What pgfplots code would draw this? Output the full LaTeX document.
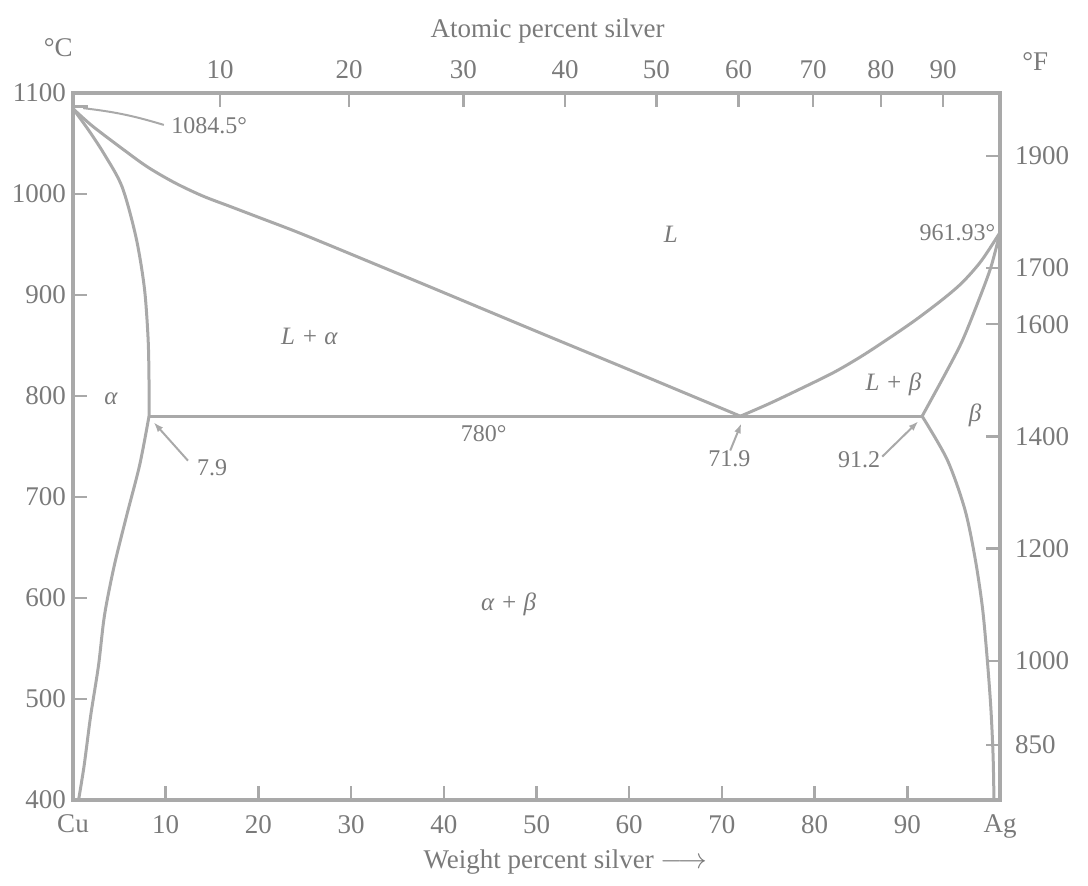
\documentclass[border=0pt]{standalone}
\usepackage{fontspec}
\setmainfont{Liberation Serif}
\usepackage{pgfplots}
\pgfplotsset{compat=1.18}
\usetikzlibrary{arrows.meta,calc}
\definecolor{lg}{HTML}{A9A9A9}
\definecolor{tg}{HTML}{7A7A7A}
\definecolor{ag}{HTML}{555555}

\begin{document}
\begin{tikzpicture}
\pgfplotsset{
  base/.style={scale only axis, width=463.5pt, height=353.5pt,
    xmin=0, xmax=100, ymin=400, ymax=1100, clip=false,
    axis line style={lg, line width=2pt},
    major tick length=7pt, tick style={lg, line width=1.2pt},
    tick label style={tg, font=\fontsize{13.5}{16}\selectfont},
    /pgf/number format/assume math mode=true,
    /pgf/number format/1000 sep={}},
}
\tikzset{
  curve/.style={lg, line width=1.5pt, smooth},
  ann/.style={tg, font=\fontsize{12}{14}\selectfont},
  reg/.style={tg, font=\fontsize{12.5}{15}\selectfont\itshape},
}
\begin{axis}[base, name=ax,
  xtick={0,10,...,100}, xticklabels={Cu,10,20,30,40,50,60,70,80,90,Ag},
  xtick pos=left, ytick={400,500,...,1100}, ytick pos=left,
  xticklabel style={yshift=-4pt}]
% liquidus (Cu side)
\addplot[curve] coordinates {(0,1084.5) (2,1068) (5,1047) (8,1027) (11,1011) (14,998) (17,987.5) (20,977) (24,963) (28,948) (33,929) (38,910) (44,887) (50,864) (55,845) (60,826) (66,803) (72,780)};
% alpha solidus
\addplot[curve] coordinates {(0,1084.5) (1.7,1063) (3.4,1039) (5.3,1007) (6.8,957) (7.7,907) (8.1,857) (8.2,815) (8.2,780)};
% alpha solvus
\addplot[curve] coordinates {(8.2,780) (7.2,732) (5.8,682) (4.45,632) (3.4,583) (2.75,533) (1.9,483) (1.2,434) (0.6,400)};
% eutectic line
\addplot[lg, line width=1.5pt] coordinates {(8.2,780) (91.6,780)};
% liquidus (Ag side)
\addplot[curve] coordinates {(72,780) (75,792) (78,805) (82,823) (85,839) (88,857) (91,876) (94,897) (96,913) (98,934) (100,961.93)};
% beta solidus
\addplot[curve] coordinates {(91.6,780) (94.1,822) (95.9,854) (97.5,890) (99.0,927) (100,961.93)};
% beta solvus
\addplot[curve] coordinates {(91.6,780) (94.3,737) (96.2,688) (97.3,640) (98.1,591) (98.6,542) (99.0,493) (99.25,445) (99.35,400)};

% annotations
\draw[lg, line width=1.5pt] (axis cs:0.2,1087) -- (axis cs:1.6,1087);
\draw[lg, line width=1pt] (axis cs:1.1,1085) to[bend left=5] (axis cs:9.8,1068.4);
\node[ann] at (axis cs:14.7,1067.5) {1084.5°};
\node[ann] at (axis cs:95.4,961.5) {961.93°};
\node[ann] at (axis cs:44.3,763) {780°};
\node[ann] at (axis cs:15.0,729) {7.9};
\draw[lg, line width=1pt, -{Latex[length=5pt,width=3.5pt,fill=ag]}] (axis cs:12.4,736) -- (axis cs:8.7,774);
\node[ann] at (axis cs:70.8,738) {71.9};
\draw[lg, line width=1pt, -{Latex[length=5pt,width=3.5pt,fill=ag]}] (axis cs:70.9,746) -- (axis cs:72.1,773);
\node[ann] at (axis cs:84.8,737) {91.2};
\draw[lg, line width=1pt, -{Latex[length=5pt,width=3.5pt,fill=ag]}] (axis cs:87.3,740) -- (axis cs:91.2,775);

% region labels
\node[reg] at (axis cs:64.5,960) {L};
\node[reg] at (axis cs:25.5,859) {L + α};
\node[reg] at (axis cs:4.1,797) {α};
\node[reg] at (axis cs:88.5,812) {L + β};
\node[reg] at (axis cs:97.3,781) {β};
\node[reg] at (axis cs:47,594) {α + β};

% axis titles and units
\node[tg, font=\fontsize{13.5}{16}\selectfont] at (axis cs:-1.6,1144.5) {°C};
\node[tg, font=\fontsize{13.5}{16}\selectfont] at (axis cs:103.8,1130.7) {°F};
\node[tg, font=\fontsize{13.5}{16}\selectfont] at (axis cs:51.2,1161) {Atomic percent silver};
\node[tg, font=\fontsize{13.5}{16}\selectfont] at (axis cs:53.1,338.6) {Weight percent silver $\longrightarrow$};
\end{axis}

\begin{axis}[base, axis line style={draw=none},
  xtick={15.87,29.79,42.11,53.09,62.93,71.80,79.84,87.16,93.86},
  xticklabels={10,20,30,40,50,60,70,80,90},
  xtick pos=right, xticklabel pos=right,
  ytick={1037.78,926.67,871.11,760,648.89,537.78,454.44},
  yticklabels={1900,1700,1600,1400,1200,1000,850},
  ytick pos=right, yticklabel pos=right,
  xticklabel style={yshift=3.5pt}, yticklabel style={xshift=4pt}]
\end{axis}

\pgfresetboundingbox
\path (ax.south west) ++(-36.5pt,-43pt) rectangle ($(ax.north east)+(44pt,46.5pt)$);
\end{tikzpicture}
\end{document}
